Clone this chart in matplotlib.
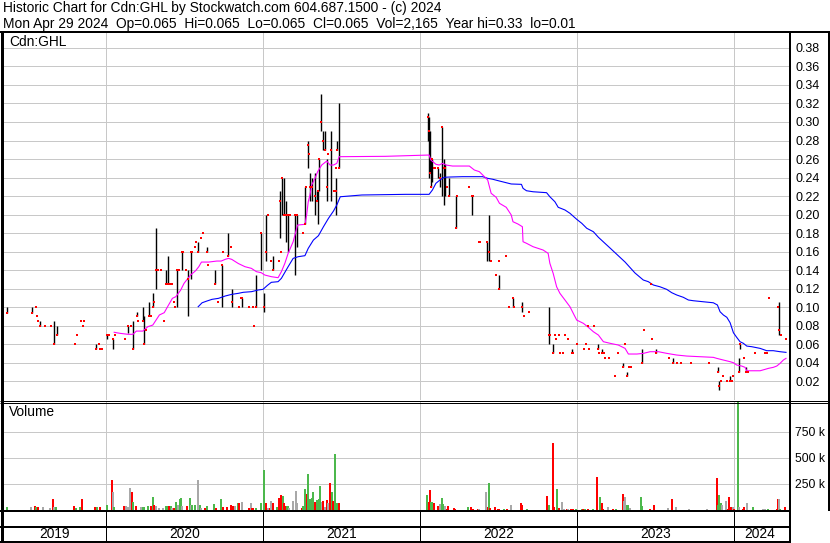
import matplotlib
matplotlib.use("Agg")
import numpy as np
import pandas as pd
import matplotlib.pyplot as plt
from matplotlib.ticker import FixedLocator, FuncFormatter

plt.rcParams["font.family"] = ["Liberation Sans", "DejaVu Sans"]

# ---- data (dates as decimal years) ----
# daily bars: (year, high, low, close)
bars_2019 = [
    (2019.370, .100, .094, .094), (2019.529, .100, .094, .094), (2019.554, .100, .100, .100),
    (2019.561, .090, .090, .090), (2019.567, .085, .085, .085), (2019.577, .085, .080, .080),
    (2019.612, .080, .080, .080), (2019.650, .080, .080, .080), (2019.666, .085, .060, .060),
    (2019.691, .080, .070, .070), (2019.803, .060, .060, .060), (2019.815, .070, .070, .070),
    (2019.841, .085, .085, .085), (2019.854, .080, .080, .080), (2019.860, .085, .085, .085),
    (2019.937, .060, .055, .055), (2019.956, .060, .060, .060), (2019.962, .055, .055, .055),
    (2019.975, .055, .055, .055),
]
bars_2020 = [
    (2020.006, .070, .065, .070), (2020.016, .070, .070, .070), (2020.044, .065, .055, .065),
    (2020.057, .070, .070, .070), (2020.120, .065, .065, .065), (2020.138, .080, .072, .080),
    (2020.157, .080, .080, .080), (2020.170, .085, .055, .055), (2020.195, .095, .090, .090),
    (2020.201, .085, .085, .085), (2020.233, .100, .085, .085), (2020.239, .090, .060, .060),
    (2020.252, .075, .075, .075), (2020.277, .105, .090, .090), (2020.289, .090, .090, .090),
    (2020.302, .115, .100, .100), (2020.308, .105, .105, .105), (2020.321, .185, .120, .140),
    (2020.333, .140, .140, .140), (2020.352, .140, .140, .140), (2020.371, .085, .085, .085),
    (2020.384, .140, .125, .125), (2020.396, .155, .125, .125), (2020.409, .125, .125, .125),
    (2020.421, .125, .125, .125), (2020.434, .105, .105, .105), (2020.440, .100, .100, .100),
    (2020.453, .140, .100, .140), (2020.465, .140, .140, .140), (2020.484, .160, .140, .160),
    (2020.491, .160, .160, .160), (2020.509, .140, .140, .140), (2020.522, .140, .090, .130),
    (2020.541, .160, .130, .160), (2020.550, .160, .160, .160), (2020.566, .165, .165, .165),
    (2020.572, .170, .170, .170), (2020.585, .170, .160, .160), (2020.604, .175, .175, .175),
    (2020.616, .180, .180, .180), (2020.642, .165, .160, .160), (2020.648, .145, .145, .145),
    (2020.692, .140, .125, .125), (2020.711, .105, .105, .105), (2020.736, .145, .100, .145),
    (2020.748, .160, .160, .160), (2020.774, .180, .155, .155), (2020.793, .165, .165, .165),
    (2020.805, .120, .100, .105), (2020.849, .100, .100, .100), (2020.862, .110, .110, .110),
    (2020.868, .110, .100, .110), (2020.912, .100, .100, .100), (2020.937, .100, .100, .100),
    (2020.943, .080, .080, .080), (2020.956, .135, .100, .100), (2020.987, .180, .140, .180),
]
bars_2021 = [
    (2021.006, .115, .095, .100), (2021.019, .200, .150, .160), (2021.032, .200, .200, .200),
    (2021.051, .150, .150, .150), (2021.064, .155, .140, .140), (2021.103, .150, .150, .150),
    (2021.109, .225, .175, .215), (2021.115, .160, .160, .160), (2021.122, .240, .200, .240),
    (2021.135, .240, .200, .200), (2021.147, .215, .170, .200), (2021.160, .200, .160, .200),
    (2021.170, .200, .200, .200), (2021.205, .200, .135, .200), (2021.218, .200, .165, .200),
    (2021.256, .180, .180, .180), (2021.269, .230, .190, .190), (2021.276, .230, .230, .230),
    (2021.288, .280, .250, .275), (2021.295, .265, .265, .265), (2021.301, .245, .215, .230),
    (2021.314, .240, .215, .230), (2021.333, .245, .200, .220), (2021.346, .225, .215, .215),
    (2021.353, .225, .190, .225), (2021.359, .260, .225, .260), (2021.372, .330, .290, .300),
    (2021.385, .290, .270, .280), (2021.397, .290, .270, .270), (2021.410, .260, .215, .230),
    (2021.417, .265, .265, .265), (2021.436, .290, .215, .270), (2021.449, .225, .225, .225),
    (2021.462, .240, .200, .225), (2021.468, .250, .250, .250), (2021.474, .280, .270, .270),
    (2021.487, .320, .250, .250),
]
bars_2022 = [
    (2022.051, .310, .280, .305), (2022.058, .305, .240, .290), (2022.064, .290, .245, .245),
    (2022.071, .260, .230, .230), (2022.077, .260, .235, .260), (2022.087, .250, .250, .250),
    (2022.096, .250, .250, .250), (2022.115, .250, .240, .250), (2022.128, .245, .230, .240),
    (2022.141, .295, .220, .295), (2022.154, .260, .210, .250), (2022.160, .255, .220, .250),
    (2022.173, .230, .230, .230), (2022.186, .240, .220, .220), (2022.231, .220, .185, .185),
    (2022.237, .220, .220, .220), (2022.314, .230, .230, .230), (2022.333, .220, .200, .220),
    (2022.340, .220, .220, .220), (2022.378, .170, .170, .170), (2022.385, .170, .170, .170),
    (2022.429, .170, .150, .170), (2022.442, .200, .150, .160), (2022.455, .150, .150, .150),
    (2022.487, .135, .135, .135), (2022.500, .150, .150, .150), (2022.506, .135, .120, .120),
    (2022.545, .155, .155, .155), (2022.564, .100, .100, .100), (2022.590, .110, .100, .110),
    (2022.596, .100, .100, .100), (2022.647, .105, .095, .100), (2022.660, .090, .090, .090),
    (2022.692, .095, .095, .095), (2022.821, .100, .060, .070), (2022.827, .070, .070, .070),
    (2022.846, .060, .050, .050), (2022.859, .070, .070, .070), (2022.865, .065, .065, .065),
    (2022.885, .070, .070, .070), (2022.891, .050, .050, .050), (2022.910, .050, .050, .050),
    (2022.923, .070, .070, .070), (2022.942, .065, .065, .065), (2022.968, .055, .050, .050),
    (2022.974, .050, .050, .050),
]
bars_2023 = [
    (2023.000, .060, .060, .060), (2023.045, .055, .055, .055), (2023.057, .060, .060, .060),
    (2023.070, .080, .080, .080), (2023.076, .055, .055, .055), (2023.108, .080, .080, .080),
    (2023.134, .060, .055, .055), (2023.140, .050, .050, .050), (2023.159, .055, .050, .050),
    (2023.172, .050, .050, .050), (2023.178, .045, .045, .045), (2023.204, .045, .045, .045),
    (2023.242, .025, .025, .025), (2023.261, .050, .050, .050), (2023.293, .040, .035, .035),
    (2023.306, .060, .060, .060), (2023.318, .030, .025, .025), (2023.328, .035, .035, .035),
    (2023.344, .035, .035, .035), (2023.414, .055, .040, .040), (2023.427, .075, .075, .075),
    (2023.471, .125, .125, .125), (2023.478, .065, .065, .065), (2023.503, .055, .050, .050),
    (2023.586, .045, .045, .045), (2023.612, .045, .040, .040), (2023.637, .040, .040, .040),
    (2023.662, .040, .040, .040), (2023.726, .040, .040, .040), (2023.841, .040, .040, .040),
    (2023.898, .035, .030, .030), (2023.904, .020, .010, .015), (2023.917, .020, .020, .020),
    (2023.930, .025, .025, .025), (2023.955, .020, .020, .020), (2023.975, .025, .020, .020),
    (2023.987, .020, .020, .020), (2023.994, .025, .025, .025),
]
bars_2024 = [
    (2024.032, .045, .030, .030), (2024.038, .060, .055, .060), (2024.064, .045, .045, .045),
    (2024.076, .035, .030, .030), (2024.089, .030, .030, .030), (2024.134, .050, .050, .050),
    (2024.197, .050, .050, .050), (2024.210, .050, .050, .050), (2024.223, .110, .110, .110),
    (2024.280, .100, .100, .100), (2024.287, .105, .070, .075), (2024.299, .070, .070, .070),
    (2024.331, .065, .065, .065),
]

# moving averages: (year, value)
ma_short = [
    (2020.052, .0727), (2020.088, .0716), (2020.140, .0705), (2020.172, .0705), (2020.193, .0740),
    (2020.235, .0740), (2020.266, .0787), (2020.298, .0805), (2020.340, .0914), (2020.371, .0939),
    (2020.392, .1003), (2020.423, .1094), (2020.445, .1112), (2020.476, .1184), (2020.497, .1256),
    (2020.539, .1346), (2020.571, .1393), (2020.591, .1436), (2020.608, .1486), (2020.654, .1486),
    (2020.706, .1497), (2020.734, .1497), (2020.759, .1515), (2020.780, .1526), (2020.801, .1515),
    (2020.843, .1470), (2020.885, .1436), (2020.926, .1418), (2020.958, .1382), (2020.989, .1371),
    (2021.011, .1346), (2021.053, .1328), (2021.096, .1317), (2021.117, .1382), (2021.139, .1472),
    (2021.160, .1580), (2021.192, .1706), (2021.220, .1886), (2021.267, .1894), (2021.278, .1995),
    (2021.288, .2138), (2021.299, .2211), (2021.310, .2319), (2021.331, .2391), (2021.348, .2463),
    (2021.374, .2535), (2021.406, .2578), (2021.427, .2535), (2021.449, .2535), (2021.470, .2553),
    (2021.485, .2625), (2021.780, .2629), (2022.058, .2643), (2022.069, .2589), (2022.101, .2543),
    (2022.122, .2535), (2022.143, .2553), (2022.165, .2535), (2022.207, .2524), (2022.314, .2524),
    (2022.346, .2481), (2022.378, .2463), (2022.410, .2409), (2022.431, .2373), (2022.442, .2301),
    (2022.453, .2229), (2022.485, .2186), (2022.506, .2121), (2022.549, .2078), (2022.581, .1995),
    (2022.592, .1922), (2022.624, .1897), (2022.652, .1868), (2022.656, .1706), (2022.678, .1689),
    (2022.720, .1652), (2022.784, .1616), (2022.816, .1580), (2022.827, .1472), (2022.848, .1364),
    (2022.870, .1219), (2022.891, .1148), (2022.923, .1076), (2022.955, .1003), (2022.976, .0932),
    (2022.998, .0859), (2023.040, .0824), (2023.072, .0781), (2023.104, .0733), (2023.136, .0697),
    (2023.168, .0625), (2023.210, .0608), (2023.263, .0589), (2023.306, .0553), (2023.327, .0492),
    (2023.381, .0492), (2023.423, .0499), (2023.465, .0517), (2023.518, .0517), (2023.572, .0499),
    (2023.635, .0481), (2023.699, .0470), (2023.783, .0463), (2023.868, .0456), (2023.890, .0445),
    (2023.932, .0427), (2023.975, .0409), (2023.996, .0398), (2024.017, .0373), (2024.049, .0362),
    (2024.070, .0348), (2024.081, .0311), (2024.166, .0311), (2024.197, .0326), (2024.219, .0337),
    (2024.250, .0348), (2024.272, .0362), (2024.293, .0391), (2024.314, .0427), (2024.331, .0445),
]
ma_long = [
    (2020.587, .1003), (2020.612, .1046), (2020.643, .1065), (2020.675, .1083), (2020.717, .1094),
    (2020.759, .1119), (2020.801, .1137), (2020.843, .1148), (2020.874, .1159), (2020.927, .1166),
    (2020.969, .1184), (2021.000, .1191), (2021.028, .1234), (2021.053, .1267), (2021.096, .1274),
    (2021.117, .1310), (2021.160, .1436), (2021.192, .1526), (2021.224, .1544), (2021.267, .1555),
    (2021.288, .1634), (2021.321, .1724), (2021.353, .1771), (2021.385, .1868), (2021.417, .1959),
    (2021.449, .2038), (2021.470, .2103), (2021.492, .2192), (2021.630, .2211), (2021.908, .2218),
    (2022.058, .2218), (2022.079, .2265), (2022.101, .2337), (2022.133, .2381), (2022.154, .2402),
    (2022.186, .2405), (2022.271, .2409), (2022.399, .2409), (2022.431, .2391), (2022.463, .2381),
    (2022.506, .2362), (2022.581, .2330), (2022.646, .2326), (2022.656, .2283), (2022.678, .2257),
    (2022.720, .2246), (2022.806, .2236), (2022.827, .2192), (2022.859, .2138), (2022.880, .2078),
    (2022.923, .2049), (2022.955, .2013), (2022.998, .1948), (2023.030, .1905), (2023.062, .1851),
    (2023.104, .1814), (2023.136, .1754), (2023.210, .1638), (2023.306, .1486), (2023.369, .1368),
    (2023.422, .1292), (2023.454, .1274), (2023.486, .1238), (2023.528, .1219), (2023.571, .1191),
    (2023.603, .1155), (2023.635, .1130), (2023.677, .1105), (2023.709, .1076), (2023.741, .1068),
    (2023.804, .1057), (2023.868, .1046), (2023.894, .1022), (2023.911, .0949), (2023.932, .0914),
    (2023.954, .0889), (2023.975, .0830), (2023.996, .0722), (2024.017, .0672), (2024.038, .0625),
    (2024.059, .0608), (2024.081, .0578), (2024.113, .0571), (2024.166, .0553), (2024.208, .0528),
    (2024.250, .0528), (2024.293, .0517), (2024.331, .0510),
]

# volume: (year, thousands of shares, u=up / d=down / n=unchanged)
volume_2019 = [
    (2019.368, 25, "u"), (2019.520, 25, "n"), (2019.548, 41, "d"), (2019.554, 25, "u"),
    (2019.569, 25, "d"), (2019.601, 25, "n"), (2019.644, 16, "n"), (2019.661, 108, "d"),
    (2019.671, 32, "n"), (2019.682, 32, "u"), (2019.796, 41, "d"), (2019.809, 16, "u"),
    (2019.835, 32, "u"), (2019.845, 108, "d"), (2019.930, 25, "d"), (2019.945, 25, "u"),
    (2019.962, 25, "d"),
]
volume_2020 = [
    (2020.004, 51, "u"), (2020.036, 288, "d"), (2020.042, 177, "n"), (2020.052, 32, "u"),
    (2020.113, 35, "d"), (2020.130, 41, "n"), (2020.140, 32, "n"), (2020.155, 212, "n"),
    (2020.166, 177, "d"), (2020.173, 79, "u"), (2020.189, 41, "d"), (2020.225, 25, "n"),
    (2020.235, 32, "u"), (2020.245, 25, "u"), (2020.270, 41, "u"), (2020.287, 35, "d"),
    (2020.302, 120, "u"), (2020.308, 51, "d"), (2020.319, 41, "n"), (2020.340, 16, "n"),
    (2020.360, 16, "n"), (2020.382, 35, "u"), (2020.392, 41, "u"), (2020.403, 35, "d"),
    (2020.413, 35, "u"), (2020.423, 16, "n"), (2020.434, 16, "d"), (2020.445, 73, "u"),
    (2020.461, 47, "n"), (2020.470, 104, "u"), (2020.476, 111, "u"), (2020.486, 35, "n"),
    (2020.518, 35, "d"), (2020.533, 117, "u"), (2020.539, 47, "n"), (2020.549, 47, "u"),
    (2020.564, 47, "u"), (2020.587, 288, "n"), (2020.598, 47, "u"), (2020.608, 16, "n"),
    (2020.633, 16, "d"), (2020.643, 38, "u"), (2020.686, 57, "u"), (2020.700, 16, "d"),
    (2020.734, 104, "u"), (2020.748, 32, "d"), (2020.769, 32, "d"), (2020.797, 51, "d"),
    (2020.807, 41, "d"), (2020.822, 35, "n"), (2020.840, 63, "u"), (2020.849, 63, "d"),
    (2020.864, 73, "n"), (2020.910, 16, "d"), (2020.926, 63, "n"), (2020.933, 16, "d"),
    (2020.954, 16, "u"), (2020.986, 70, "u"),
]
volume_2021 = [
    (2021.006, 383, "u"), (2021.017, 70, "d"), (2021.032, 16, "n"), (2021.043, 16, "d"),
    (2021.053, 89, "n"), (2021.064, 63, "d"), (2021.090, 25, "u"), (2021.100, 114, "d"),
    (2021.117, 146, "d"), (2021.128, 136, "u"), (2021.135, 63, "d"), (2021.145, 41, "d"),
    (2021.156, 41, "u"), (2021.165, 16, "n"), (2021.192, 89, "n"), (2021.209, 184, "n"),
    (2021.218, 70, "n"), (2021.246, 16, "d"), (2021.256, 35, "u"), (2021.267, 203, "u"),
    (2021.280, 152, "d"), (2021.288, 348, "u"), (2021.299, 104, "u"), (2021.310, 117, "u"),
    (2021.321, 174, "u"), (2021.332, 79, "d"), (2021.346, 98, "u"), (2021.357, 104, "u"),
    (2021.363, 231, "u"), (2021.374, 79, "n"), (2021.385, 89, "d"), (2021.396, 32, "n"),
    (2021.406, 98, "d"), (2021.417, 70, "n"), (2021.427, 259, "d"), (2021.438, 174, "u"),
    (2021.449, 89, "d"), (2021.460, 538, "u"), (2021.470, 63, "u"), (2021.485, 70, "d"),
]
volume_2022 = [
    (2022.047, 141, "u"), (2022.056, 77, "d"), (2022.062, 192, "d"), (2022.073, 77, "u"),
    (2022.088, 64, "d"), (2022.115, 35, "d"), (2022.126, 58, "n"), (2022.139, 112, "u"),
    (2022.149, 58, "u"), (2022.158, 35, "n"), (2022.169, 13, "d"), (2022.181, 35, "d"),
    (2022.218, 19, "d"), (2022.224, 13, "d"), (2022.303, 26, "u"), (2022.325, 26, "d"),
    (2022.340, 13, "d"), (2022.367, 13, "d"), (2022.378, 6, "n"), (2022.421, 173, "n"),
    (2022.431, 26, "d"), (2022.438, 256, "u"), (2022.447, 19, "d"), (2022.479, 26, "d"),
    (2022.496, 13, "d"), (2022.506, 6, "d"), (2022.534, 13, "u"), (2022.556, 13, "d"),
    (2022.581, 45, "n"), (2022.641, 64, "d"), (2022.652, 45, "d"), (2022.681, 13, "u"),
    (2022.810, 135, "d"), (2022.822, 45, "u"), (2022.844, 641, "d"), (2022.854, 26, "d"),
    (2022.870, 205, "u"), (2022.886, 19, "d"), (2022.902, 77, "n"), (2022.917, 13, "n"),
    (2022.934, 13, "d"), (2022.944, 6, "n"), (2022.960, 13, "d"), (2022.976, 6, "d"),
    (2022.992, 6, "u"),
]
volume_2023 = [
    (2023.030, 13, "u"), (2023.040, 13, "d"), (2023.051, 13, "u"), (2023.072, 6, "d"),
    (2023.100, 13, "u"), (2023.125, 314, "d"), (2023.147, 122, "u"), (2023.158, 64, "d"),
    (2023.168, 13, "d"), (2023.196, 26, "n"), (2023.232, 6, "d"), (2023.248, 6, "u"),
    (2023.291, 151, "d"), (2023.301, 83, "n"), (2023.308, 128, "n"), (2023.316, 51, "u"),
    (2023.327, 45, "u"), (2023.338, 19, "n"), (2023.406, 122, "u"), (2023.416, 35, "u"),
    (2023.465, 6, "d"), (2023.491, 45, "d"), (2023.578, 19, "n"), (2023.603, 103, "d"),
    (2023.631, 26, "n"), (2023.716, 6, "n"), (2023.830, 6, "n"), (2023.890, 304, "d"),
    (2023.900, 45, "u"), (2023.907, 147, "u"), (2023.915, 67, "u"), (2023.924, 45, "n"),
    (2023.949, 83, "n"), (2023.960, 6, "d"), (2023.970, 128, "d"), (2023.979, 32, "d"),
    (2023.992, 26, "n"),
]
volume_2024 = [
    (2024.000, 6, "d"), (2024.024, 1100, "u"), (2024.032, 26, "n"), (2024.055, 13, "d"),
    (2024.066, 32, "d"), (2024.081, 64, "n"), (2024.123, 32, "u"), (2024.187, 13, "n"),
    (2024.197, 13, "n"), (2024.215, 6, "u"), (2024.272, 13, "d"), (2024.278, 103, "d"),
    (2024.287, 103, "n"), (2024.293, 13, "u"), (2024.325, 26, "d"),
]

price_ticks = [0.02, 0.04, 0.06, 0.08, 0.10, 0.12, 0.14, 0.16, 0.18, 0.20,
               0.22, 0.24, 0.26, 0.28, 0.30, 0.32, 0.34, 0.36, 0.38]
volume_ticks = [250, 500, 750]
years = [2019, 2020, 2021, 2022, 2023, 2024]

title_line1 = "Historic Chart for Cdn:GHL by Stockwatch.com 604.687.1500 - (c) 2024"
title_line2 = ("Mon Apr 29 2024  Op=0.065  Hi=0.065  Lo=0.065  Cl=0.065  "
               "Vol=2,165  Year hi=0.33  lo=0.01")

bars = pd.DataFrame(bars_2019 + bars_2020 + bars_2021 + bars_2022 + bars_2023 + bars_2024,
                    columns=["t", "high", "low", "close"])
short = pd.DataFrame(ma_short, columns=["t", "v"])
long_ = pd.DataFrame(ma_long, columns=["t", "v"])
vol = pd.DataFrame(volume_2019 + volume_2020 + volume_2021 + volume_2022 + volume_2023 + volume_2024,
                   columns=["t", "k", "dir"])

# ---- layout (pixel boxes on an 830x543 canvas) ----
W, H = 830, 543
PX = 0.72  # one pixel in points


def box(x0, y0, x1, y1):
    return [x0 / W, 1 - y1 / H, (x1 - x0) / W, (y1 - y0) / H]


fig = plt.figure(figsize=(8.3, 5.43), dpi=100, facecolor="white")
ax_p = fig.add_axes(box(3, 33, 789, 400))
ax_v = fig.add_axes(box(3, 402, 789, 510))
ax_s = fig.add_axes(box(3, 510, 789, 542))
frame = fig.add_axes([0, 0, 1, 1], zorder=20)
frame.set_xlim(0, W)
frame.set_ylim(H, 0)
frame.axis("off")
frame.patch.set_alpha(0)

x_lim = (2019.344, 2024.350)
grid_col = "#c8c8c8"
text_size = 9.9
tick_size = 9.0

for ax in (ax_p, ax_v, ax_s):
    ax.set_xlim(*x_lim)
    for s in ax.spines.values():
        s.set_visible(False)
    ax.xaxis.set_major_locator(FixedLocator(years[1:]))
    ax.tick_params(axis="x", length=0, labelbottom=False)

# price panel
ax_p.set_ylim(-0.0005, 0.3962)
ax_p.grid(True, color=grid_col, lw=PX, zorder=0)
ax_p.yaxis.tick_right()
ax_p.yaxis.set_major_locator(FixedLocator(price_ticks))
ax_p.yaxis.set_major_formatter(FuncFormatter(lambda v, _: f"{v:.2f}"))
ax_p.tick_params(axis="y", length=0, pad=5, labelsize=tick_size)

rng = bars[bars["high"] > bars["low"]]
ax_p.vlines(rng["t"], rng["low"], rng["high"], color="black", lw=1.4 * PX, zorder=3)
ax_p.plot(long_["t"], long_["v"], color="#0000ff", lw=PX * 1.1, zorder=4)
ax_p.plot(short["t"], short["v"], color="#ff00ff", lw=PX * 1.1, zorder=4)
ax_p.plot(bars["t"], bars["close"], ls="none", marker="s", ms=2.1, mew=0,
          color="#ff0000", zorder=5)

# volume panel
ax_v.set_ylim(0, 1034)
ax_v.grid(True, color=grid_col, lw=PX, zorder=0)
ax_v.yaxis.tick_right()
ax_v.yaxis.set_major_locator(FixedLocator(volume_ticks))
ax_v.yaxis.set_major_formatter(FuncFormatter(lambda v, _: f"{v:.0f} k"))
ax_v.tick_params(axis="y", length=0, pad=4, labelsize=8.7)
vol_colors = {"u": "#4cb84c", "d": "#ff0000", "n": "#a8a8a8"}
ax_v.bar(vol["t"], vol["k"], width=0.013, color=vol["dir"].map(vol_colors),
         linewidth=0, zorder=3)

# year strip
ax_s.set_ylim(0, 1)
ax_s.set_yticks([])
ax_s.vlines(years[1:], 0, 1, color="black", lw=PX)
for y in years:
    lo = max(y, x_lim[0])
    hi = min(y + 1, bars["t"].max() if y == years[-1] else x_lim[1])
    ax_s.text((lo + hi) / 2, 0.24, str(y), ha="center", va="center", fontsize=text_size)

# header text, panel captions and frame lines
frame.text(3, 8, title_line1, ha="left", va="center", fontsize=text_size)
frame.text(3, 24, title_line2, ha="left", va="center", fontsize=text_size)
frame.text(9, 41.5, "Cdn:GHL", ha="left", va="center", fontsize=text_size)
frame.text(9, 412.5, "Volume", ha="left", va="center", fontsize=text_size)
frame.hlines(31.5, 0, W, color="black", lw=2 * PX)
frame.hlines([400.5, 402.5], 0, W, color="black", lw=PX)
frame.hlines([510.5, 526.5, 541.5], 0, 790, color="black", lw=2 * PX)
frame.vlines(1.5, 31, H, color="black", lw=3 * PX)
frame.vlines(789.5, 31, H, color="black", lw=2 * PX)
frame.vlines(828.5, 31, 511, color="black", lw=2 * PX)

fig.savefig("out.png", dpi=100, facecolor="white")
